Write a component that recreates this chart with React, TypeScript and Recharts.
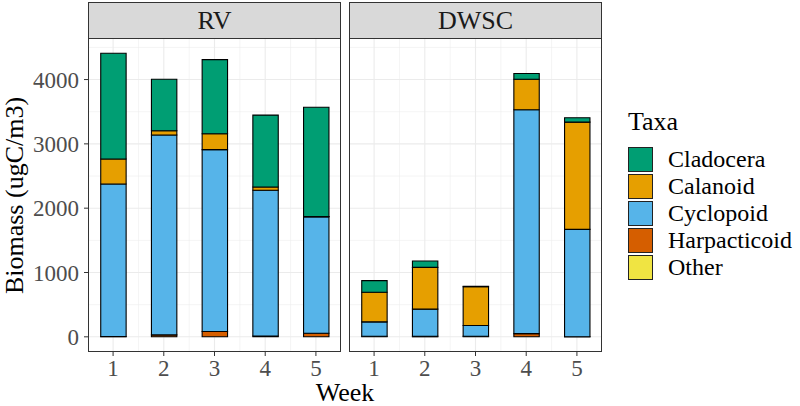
import React from "react";
import { Bar, BarChart, CartesianGrid, XAxis, YAxis } from "recharts";

const FONT = '"Liberation Serif", "Times New Roman", serif';

const WEEKS = [1, 2, 3, 4, 5];
const Y_TICKS = [0, 1000, 2000, 3000, 4000];
const Y_MINOR = [500, 1500, 2500, 3500, 4500];
const X_MINOR = [1.5, 2.5, 3.5, 4.5];

// bottom -> top stacking order
const TAXA = ["Other", "Harpacticoid", "Cyclopoid", "Calanoid", "Cladocera"];
const COLORS: Record<string, string> = {
  Cladocera: "#009E73",
  Calanoid: "#E69F00",
  Cyclopoid: "#56B4E9",
  Harpacticoid: "#D55E00",
  Other: "#F0E442",
};
const LEGEND_ORDER = ["Cladocera", "Calanoid", "Cyclopoid", "Harpacticoid", "Other"];

// RV site
const RV_OTHER = [0, 0, 0, 0, 0];
const RV_HARPACTICOID = [4, 30, 82, 12, 55];
const RV_CYCLOPOID = [2373, 3107, 2828, 2267, 1810];
const RV_CALANOID = [388, 68, 248, 51, 5];
const RV_CLADOCERA = [1645, 800, 1152, 1117, 1700];

// DWSC site
const DWSC_OTHER = [0, 0, 0, 0, 0];
const DWSC_HARPACTICOID = [8, 10, 10, 50, 2];
const DWSC_CYCLOPOID = [225, 420, 165, 3480, 1668];
const DWSC_CALANOID = [460, 650, 603, 475, 1668];
const DWSC_CLADOCERA = [180, 98, 8, 88, 68];

const build = (o: number[], h: number[], cy: number[], ca: number[], cl: number[]) =>
  WEEKS.map((w, i) => ({
    week: w,
    Other: o[i],
    Harpacticoid: h[i],
    Cyclopoid: cy[i],
    Calanoid: ca[i],
    Cladocera: cl[i],
  }));

const rvData = build(RV_OTHER, RV_HARPACTICOID, RV_CYCLOPOID, RV_CALANOID, RV_CLADOCERA);
const dwscData = build(DWSC_OTHER, DWSC_HARPACTICOID, DWSC_CYCLOPOID, DWSC_CALANOID, DWSC_CLADOCERA);

const XTick = ({ x, y, payload }: any) => (
  <text x={x} y={y + 16} textAnchor="middle" fill="#4D4D4D" fontSize={23} fontFamily={FONT} style={{ fontFamily: FONT }}>
    {payload.value}
  </text>
);

const YTick = ({ x, y, payload }: any) => (
  <text x={x} y={y + 8} textAnchor="end" fill="#4D4D4D" fontSize={23} fontFamily={FONT} style={{ fontFamily: FONT }}>
    {payload.value}
  </text>
);

function Panel({ data, showY, width }: { data: Record<string, number>[]; showY: boolean; width: number }) {
  return (
    <BarChart width={width} height={406} data={data} margin={{ top: 39, right: 1, bottom: 25, left: 0 }}>
      <CartesianGrid stroke="#EBEBEB" strokeWidth={0.55} horizontalValues={Y_MINOR} verticalValues={X_MINOR} />
      <CartesianGrid stroke="#EBEBEB" strokeWidth={1.1} horizontalValues={Y_TICKS} verticalValues={WEEKS} />
      <XAxis
        dataKey="week"
        type="number"
        domain={[0.525, 5.475]}
        ticks={WEEKS}
        interval={0}
        allowDataOverflow
        axisLine={false}
        tickLine={{ stroke: "#333" }}
        tickSize={5}
        tickMargin={4}
        tick={<XTick />}
        height={30}
      />
      <YAxis
        type="number"
        domain={[-220.5, 4630.5]}
        ticks={Y_TICKS}
        interval={0}
        allowDataOverflow
        hide={!showY}
        width={89}
        axisLine={false}
        tickLine={{ stroke: "#333" }}
        tickSize={5}
        tickMargin={5}
        tick={<YTick />}
      />
      {TAXA.map((t) => (
        <Bar
          key={t}
          dataKey={t}
          stackId="a"
          fill={COLORS[t]}
          stroke="#000"
          strokeWidth={1.1}
          barSize={25.4}
          isAnimationActive={false}
        />
      ))}
    </BarChart>
  );
}

const stripStyle = (left: number): React.CSSProperties => ({
  position: "absolute",
  left,
  top: 2,
  width: 253,
  height: 37,
  boxSizing: "border-box",
  background: "#D9D9D9",
  border: "1px solid #333",
  color: "#1A1A1A",
  fontFamily: FONT,
  fontSize: 26,
  lineHeight: "35px",
  textAlign: "center",
});

const borderStyle = (left: number): React.CSSProperties => ({
  position: "absolute",
  left,
  top: 38,
  width: 253,
  height: 314,
  boxSizing: "border-box",
  border: "1px solid #333",
  pointerEvents: "none",
});

export default function App() {
  return (
    <div style={{ position: "absolute", left: 0, top: 0, width: 800, height: 406, background: "#fff", overflow: "hidden", fontFamily: FONT }}>
      <div style={{ position: "absolute", left: 0, top: 0 }}>
        <Panel data={rvData} showY width={341} />
      </div>
      <div style={{ position: "absolute", left: 350, top: 0 }}>
        <Panel data={dwscData} showY={false} width={252} />
      </div>
      <div style={borderStyle(88)} />
      <div style={borderStyle(349)} />
      <div style={stripStyle(88)}>RV</div>
      <div style={stripStyle(349)}>DWSC</div>

      <div
        style={{
          position: "absolute",
          left: 13.5 - 150,
          top: 195 - 12.5,
          width: 300,
          height: 25,
          lineHeight: "25px",
          fontSize: 26,
          fontFamily: FONT,
          textAlign: "center",
          transform: "rotate(-90deg)",
          whiteSpace: "nowrap",
        }}
      >
        Biomass (ugC/m3)
      </div>
      <div
        style={{
          position: "absolute",
          left: 245,
          top: 382,
          width: 200,
          height: 22,
          lineHeight: "22px",
          fontSize: 26,
          fontFamily: FONT,
          textAlign: "center",
        }}
      >
        Week
      </div>

      <div style={{ position: "absolute", left: 628, top: 109, fontSize: 26, lineHeight: "26px", fontFamily: FONT }}>Taxa</div>
      {LEGEND_ORDER.map((t, i) => (
        <div key={t} style={{ position: "absolute", left: 628, top: 147 + i * 27, height: 25, display: "flex", alignItems: "center" }}>
          <div style={{ width: 25, height: 25, boxSizing: "border-box", background: COLORS[t], border: "1px solid #222" }} />
          <span style={{ marginLeft: 15, fontSize: 24, lineHeight: "25px", fontFamily: FONT }}>{t}</span>
        </div>
      ))}
    </div>
  );
}
